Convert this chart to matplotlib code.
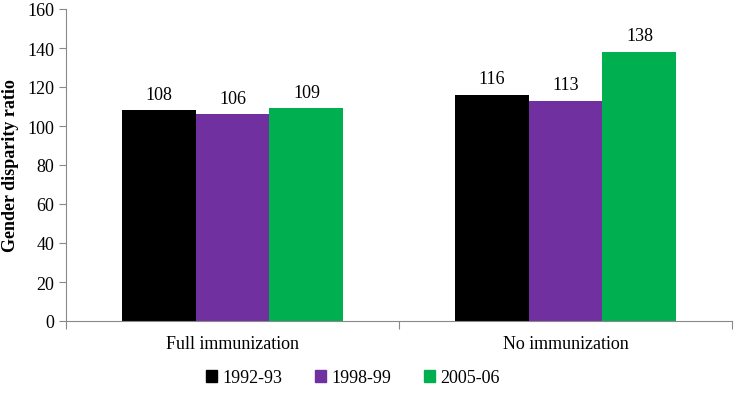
import matplotlib
matplotlib.use("Agg")
import matplotlib.pyplot as plt
import numpy as np

categories = ["Full immunization", "No immunization"]
series = ["1992-93", "1998-99", "2005-06"]
values_1992 = [108, 116]
values_1998 = [106, 113]
values_2005 = [109, 138]
colors = ["#000000", "#7030A0", "#00B050"]

plt.rcParams['font.family'] = ['Liberation Serif', 'DejaVu Serif']

fig = plt.figure(figsize=(7.36, 4.10), dpi=100)
ax = fig.add_axes([66/736, (410-322)/410, (732-66)/736, (322-10)/410])

x = np.arange(len(categories))
w = 0.222
data = [values_1992, values_1998, values_2005]
for i, (vals, name, c) in enumerate(zip(data, series, colors)):
    pos = x + (i - 1) * w
    ax.bar(pos, vals, width=w, color=c, label=name, zorder=2)
    for xp, v in zip(pos, vals):
        ax.text(xp, v + 4, f"{v}", ha="center", va="bottom", fontsize=13,
                family='Liberation Serif')

ax.set_xlim(-0.5, 1.5)
ax.set_ylim(0, 160)
ax.set_yticks(np.arange(0, 161, 20))
ax.set_xticks([-0.5, 0.5, 1.5])
ax.set_xticklabels([])
ax.set_xticks(x, minor=True)
ax.set_xticklabels(categories, minor=True, fontsize=13, family='Liberation Serif')
ax.tick_params(axis='x', which='minor', length=0, pad=10)
ax.tick_params(axis='x', which='major', length=6, color='#898989', direction='out')
ax.tick_params(axis='y', length=5, color='#898989', labelsize=13, direction='out')
for s in ['top', 'right']:
    ax.spines[s].set_visible(False)
for s in ['left', 'bottom']:
    ax.spines[s].set_color('#898989')
ax.set_ylabel("Gender disparity ratio", fontsize=13, fontweight='bold', labelpad=6,
              family='Liberation Serif')

handles = [plt.Rectangle((0, 0), 1, 1, color=c) for c in colors]
fig.legend(handles, series, loc='center', bbox_to_anchor=(353/736, 1 - 379/410),
           ncol=3, frameon=False, prop={'family': 'Liberation Serif', 'size': 13},
           handlelength=0.6, handleheight=0.6,
           columnspacing=1.8, handletextpad=0.3)

fig.savefig("out.png", dpi=100)
